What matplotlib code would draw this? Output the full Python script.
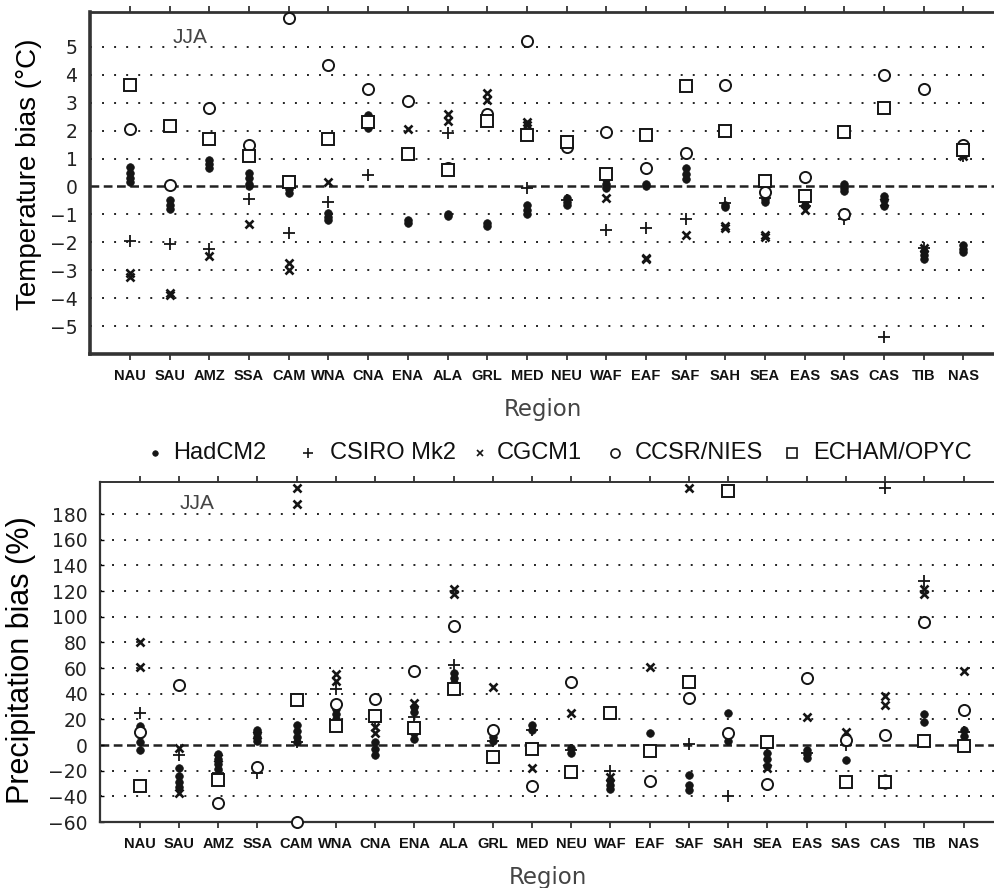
import numpy as np
import matplotlib
matplotlib.use('Agg')
import matplotlib.pyplot as plt
from matplotlib.lines import Line2D

plt.rcParams['font.family'] = ['Liberation Sans', 'DejaVu Sans']

nan = np.nan
regions = ['NAU', 'SAU', 'AMZ', 'SSA', 'CAM', 'WNA', 'CNA', 'ENA', 'ALA', 'GRL', 'MED',
           'NEU', 'WAF', 'EAF', 'SAF', 'SAH', 'SEA', 'EAS', 'SAS', 'CAS', 'TIB', 'NAS']

# temperature bias (deg C), JJA; ensemble models have several values per region
temp_hadcm2 = [[0.7, 0.5, 0.3, 0.15], [-0.5, -0.65, -0.8], [0.95, 0.8, 0.65], [0.5, 0.3, 0.1, 0.0],
               [0.05, -0.1, -0.25], [-0.95, -1.1, -1.2], [2.55, 2.4, 2.25, 2.1], [-1.2, -1.3],
               [-1.0, -1.05], [-1.3, -1.4], [-0.65, -0.85, -1.0], [-0.4, -0.55, -0.65],
               [0.25, 0.1, -0.05], [0.1, 0.0], [0.65, 0.45, 0.25], [-0.65, -0.75],
               [-0.45, -0.55], [-0.5, -0.65], [0.1, -0.05, -0.15], [-0.35, -0.5, -0.7],
               [-2.3, -2.45, -2.6], [-2.1, -2.25, -2.35]]
temp_csiro = [-1.95, -2.05, -2.25, -0.45, -1.65, -0.55, 0.4, 1.2, 1.9, 2.5, -0.05,
              -0.5, -1.55, -1.5, -1.15, -0.6, -0.4, -0.7, -1.15, -5.4, -2.2, 1.1]
temp_cgcm1 = [[-3.1, -3.25], [-3.8, -3.9], [-2.5], [-1.35], [-2.75, -3.0], [0.15], [2.35],
              [2.05], [2.6, 2.35], [3.35, 3.1], [2.3, 2.2], [1.6], [-0.4], [-2.6, -2.55],
              [-1.75], [-1.4, -1.5], [-1.75, -1.8], [-0.85], [-0.95], [-0.55], [-2.2], [1.2, 1.1]]
temp_ccsr = [2.05, 0.05, 2.8, 1.5, 6.05, 4.35, 3.5, 3.05, 0.65, 2.6, 5.2,
             1.4, 1.95, 0.65, 1.2, 3.65, -0.2, 0.35, -1.0, 4.0, 3.5, 1.5]
temp_echam = [3.65, 2.15, 1.7, 1.1, 0.15, 1.7, 2.3, 1.15, 0.6, 2.35, 1.85,
              1.6, 0.45, 1.85, 3.6, 2.0, 0.2, -0.35, 1.95, 2.8, nan, 1.3]

# precipitation bias (%), JJA
prec_hadcm2 = [[15, 8, 2, -4], [-18, -24, -29, -33], [-7, -11, -15, -19], [12, 9, 6, 3],
               [16, 11, 6, 2], [28, 24, 20], [2, -3, -8], [30, 26, 9, 5], [56, 52, 48],
               [10, 6, 3], [16, 12], [-2, -6], [-27, -31, -34], [9], [-23, -31, -35],
               [25, 3], [-6, -11, -16], [-4, -7, -10], [-12], [-26, -29, -31], [24, 18], [12, 7]]
prec_csiro = [25, -8, -22, -22, 2, 44, 18, 22, 62, 3, 12,
              -4, -20, nan, 1, -40, -2, -6, 0, 200, 128, 10]
prec_cgcm1 = [[80, 61], [-2, -37], [-10], [8], [200, 188], [55, 50], [14, 9], [33],
              [122, 118], [45], [-18], [25], [-25], [61], [200], [198], [-18], [22],
              [10], [38, 31], [122, 118], [58]]
prec_ccsr = [10, 47, -45, -17, -60, 32, 36, 58, 93, 12, -32,
             49, nan, -28, 37, 9, -30, 52, 4, 8, 96, 27]
prec_echam = [-32, nan, -27, nan, 35, 15, 23, 13, 44, -9, -3,
              -21, 25, -5, 49, 198, 2, nan, -29, -29, 3, -1]

models = ['HadCM2', 'CSIRO Mk2', 'CGCM1', 'CCSR/NIES', 'ECHAM/OPYC']
ink = '#151515'
styles = {
    'HadCM2': dict(marker='o', ms=5.5, mfc=ink, mec=ink, mew=0.5),
    'CSIRO Mk2': dict(marker='+', ms=8, mec=ink, mew=1.3),
    'CGCM1': dict(marker='x', ms=6, mec=ink, mew=1.9),
    'CCSR/NIES': dict(marker='o', ms=8, mfc='white', mec=ink, mew=1.4),
    'ECHAM/OPYC': dict(marker='s', ms=8, mfc='white', mec=ink, mew=1.4),
}


def scatter_model(ax, values, style):
    xs, ys = [], []
    for i, v in enumerate(values):
        for y in np.atleast_1d(v):
            xs.append(i)
            ys.append(y)
    ax.plot(xs, ys, linestyle='none', clip_on=False, zorder=3, **style)


def setup_axes(ax, yticks, ylim, spine_w, ytick_len):
    ax.set_xlim(-1.01, 21.8)
    ax.set_ylim(*ylim)
    ax.set_yticks(yticks)
    ax.set_yticklabels([str(t).replace('-', '\u2212') for t in yticks],
                       fontsize=13.5, color='#222', family='DejaVu Sans')
    ax.set_xticks(range(len(regions)))
    ax.set_xticklabels(regions, fontsize=10.5, fontweight='bold', color='#111')
    ax.tick_params(axis='y', direction='in', length=ytick_len, width=1.0, pad=9)
    ax.tick_params(axis='x', direction='out', length=4, width=1.2, pad=7,
                   top=True, color='#222')
    for t in yticks:
        if t == 0:
            continue
        ax.axhline(t, color='#222', lw=1.4, ls=(0, (1, 5.2)), zorder=1)
    ax.axhline(0, color='#222', lw=1.8, ls=(0, (3.5, 1.8)), zorder=1)
    ax.spines['right'].set_visible(False)
    for s in ['left', 'bottom', 'top']:
        ax.spines[s].set_linewidth(spine_w[s])
        ax.spines[s].set_color('#333')
    ax.set_xlabel('Region', fontsize=16.5, color='#444', family='DejaVu Sans', labelpad=10.4)


fig = plt.figure(figsize=(9.95, 8.88), dpi=100)

ax1 = fig.add_axes([0.0905, 0.6014, 0.9095, 0.3851])
setup_axes(ax1, list(range(-5, 6)), (-6, 6.25), {'left': 2.6, 'bottom': 2.6, 'top': 2.0}, 0)
for m, vals in zip(models, [temp_hadcm2, temp_csiro, temp_cgcm1, temp_ccsr, temp_echam]):
    scatter_model(ax1, vals, styles[m])
ax1.set_ylabel('Temperature bias (°C)', fontsize=20)
ax1.yaxis.set_label_coords(-0.053, 0.526)
ax1.text(1.08, 5.0, 'JJA', fontsize=15, color='#444', va='bottom')

ax2 = fig.add_axes([0.1005, 0.0743, 0.8995, 0.3829])
setup_axes(ax2, list(range(-60, 181, 20)), (-60, 205), {'left': 1.6, 'bottom': 1.6, 'top': 1.4}, 3)
for m, vals in zip(models, [prec_hadcm2, prec_csiro, prec_cgcm1, prec_ccsr, prec_echam]):
    scatter_model(ax2, vals, styles[m])
ax2.set_ylabel('Precipitation bias (%)', fontsize=22)
ax2.yaxis.set_label_coords(-0.072, 0.476)
ax2.text(1.02, 181, 'JJA', fontsize=15, color='#444', va='bottom')

# legend between the panels
legend_marker_x = [155, 308, 480, 615, 792]
legend_text_x = [173, 330, 497, 635, 813]
legend_y = 1 - 453 / 888
small = {'HadCM2': 4, 'CSIRO Mk2': 7, 'CGCM1': 5, 'CCSR/NIES': 6.5, 'ECHAM/OPYC': 6.5}
for m, mx, tx in zip(models, legend_marker_x, legend_text_x):
    st = dict(styles[m])
    st['ms'] = small[m]
    st['mew'] = min(st.get('mew', 1), 1.2)
    fig.add_artist(Line2D([mx / 995], [legend_y], transform=fig.transFigure,
                          linestyle='none', **st))
    fig.text(tx / 995, legend_y, m, fontsize=17, va='center', ha='left', color='#111')

fig.savefig('out.png', dpi=100)
